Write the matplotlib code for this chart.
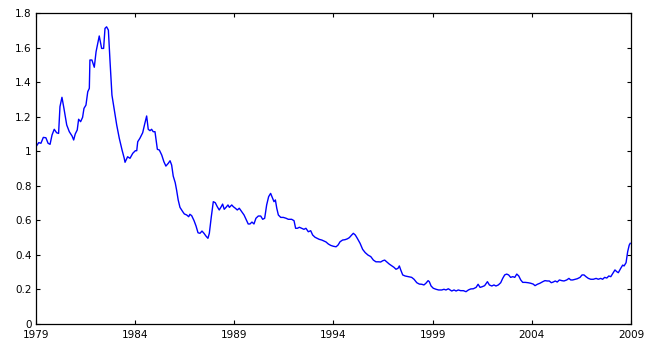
import matplotlib
matplotlib.use("Agg")
import matplotlib.pyplot as plt

# values (decimal year, level)
years = [1979.00, 1979.14, 1979.25, 1979.37, 1979.50, 1979.61, 1979.71, 1979.81, 1979.92, 1980.04,
         1980.14, 1980.21, 1980.31, 1980.41, 1980.55, 1980.68, 1980.82, 1980.90, 1980.98, 1981.08,
         1981.15, 1981.25, 1981.35, 1981.42, 1981.52, 1981.61, 1981.69, 1981.72, 1981.82, 1981.94,
         1982.03, 1982.19, 1982.26, 1982.31, 1982.41, 1982.48, 1982.56, 1982.65, 1982.73, 1982.83,
         1982.95, 1983.07, 1983.20, 1983.34, 1983.45, 1983.49, 1983.62, 1983.74, 1983.88, 1984.01,
         1984.08, 1984.13, 1984.24, 1984.38, 1984.48, 1984.58, 1984.66, 1984.75, 1984.83, 1984.91,
         1985.00, 1985.12, 1985.22, 1985.34, 1985.45, 1985.55, 1985.67, 1985.76, 1985.84, 1985.92,
         1986.02, 1986.09, 1986.17, 1986.26, 1986.40, 1986.48, 1986.60, 1986.70, 1986.76, 1986.85,
         1986.97, 1987.07, 1987.17, 1987.27, 1987.37, 1987.47, 1987.57, 1987.67, 1987.74, 1987.84,
         1987.94, 1988.04, 1988.14, 1988.24, 1988.34, 1988.41, 1988.49, 1988.58, 1988.68, 1988.75,
         1988.87, 1988.95, 1989.05, 1989.15, 1989.25, 1989.37, 1989.49, 1989.59, 1989.70, 1989.79,
         1989.89, 1989.99, 1990.09, 1990.21, 1990.33, 1990.43, 1990.53, 1990.63, 1990.73, 1990.83,
         1990.93, 1991.00, 1991.07, 1991.14, 1991.22, 1991.34, 1991.47, 1991.61, 1991.72, 1991.89,
         1992.01, 1992.09, 1992.18, 1992.28, 1992.40, 1992.51, 1992.61, 1992.73, 1992.85, 1992.95,
         1993.07, 1993.18, 1993.28, 1993.41, 1993.52, 1993.62, 1993.74, 1993.86, 1993.99, 1994.13,
         1994.23, 1994.33, 1994.46, 1994.58, 1994.70, 1994.80, 1994.90, 1995.00, 1995.10, 1995.20,
         1995.34, 1995.47, 1995.60, 1995.74, 1995.88, 1996.01, 1996.14, 1996.26, 1996.38, 1996.48,
         1996.58, 1996.68, 1996.81, 1996.95, 1997.05, 1997.15, 1997.25, 1997.32, 1997.39, 1997.49,
         1997.61, 1997.77, 1997.94, 1998.06, 1998.20, 1998.33, 1998.45, 1998.56, 1998.66, 1998.77,
         1998.83, 1998.92, 1999.03, 1999.17, 1999.30, 1999.46, 1999.57, 1999.67, 1999.79, 1999.96,
         2000.08, 2000.18, 2000.29, 2000.41, 2000.55, 2000.68, 2000.80, 2000.92, 2001.05, 2001.19,
         2001.29, 2001.39, 2001.50, 2001.62, 2001.76, 2001.86, 2001.98, 2002.09, 2002.19, 2002.31,
         2002.43, 2002.53, 2002.63, 2002.73, 2002.83, 2002.93, 2003.04, 2003.14, 2003.24, 2003.34,
         2003.44, 2003.54, 2003.67, 2003.81, 2003.94, 2004.07, 2004.16, 2004.28, 2004.41, 2004.55,
         2004.66, 2004.78, 2004.88, 2004.98, 2005.08, 2005.18, 2005.28, 2005.39, 2005.51, 2005.62,
         2005.76, 2005.87, 2005.96, 2006.06, 2006.18, 2006.29, 2006.43, 2006.53, 2006.63, 2006.73,
         2006.85, 2006.97, 2007.10, 2007.24, 2007.35, 2007.47, 2007.57, 2007.67, 2007.78, 2007.88,
         2007.98, 2008.08, 2008.19, 2008.28, 2008.36, 2008.48, 2008.58, 2008.65, 2008.75, 2008.83,
         2008.91, 2008.96]
level = [1.026, 1.050, 1.046, 1.080, 1.078, 1.046, 1.040, 1.094, 1.127, 1.107,
         1.103, 1.258, 1.312, 1.248, 1.152, 1.113, 1.088, 1.065, 1.100, 1.123,
         1.185, 1.171, 1.196, 1.248, 1.267, 1.344, 1.364, 1.528, 1.528, 1.486,
         1.576, 1.667, 1.624, 1.595, 1.595, 1.711, 1.720, 1.701, 1.528, 1.325,
         1.238, 1.152, 1.075, 1.007, 0.959, 0.936, 0.968, 0.959, 0.988, 1.003,
         1.003, 1.055, 1.075, 1.107, 1.157, 1.204, 1.127, 1.119, 1.127, 1.113,
         1.113, 1.011, 1.007, 0.978, 0.939, 0.914, 0.930, 0.945, 0.920, 0.856,
         0.818, 0.775, 0.718, 0.675, 0.650, 0.637, 0.631, 0.621, 0.635, 0.627,
         0.598, 0.567, 0.528, 0.525, 0.538, 0.525, 0.509, 0.496, 0.525, 0.621,
         0.708, 0.702, 0.679, 0.660, 0.679, 0.694, 0.664, 0.675, 0.689, 0.675,
         0.689, 0.679, 0.670, 0.660, 0.670, 0.650, 0.631, 0.606, 0.579, 0.579,
         0.590, 0.579, 0.612, 0.625, 0.625, 0.606, 0.612, 0.689, 0.737, 0.756,
         0.727, 0.708, 0.718, 0.670, 0.631, 0.617, 0.617, 0.612, 0.606, 0.606,
         0.598, 0.554, 0.554, 0.560, 0.554, 0.548, 0.554, 0.534, 0.540, 0.515,
         0.502, 0.496, 0.490, 0.486, 0.480, 0.475, 0.463, 0.455, 0.450, 0.447,
         0.457, 0.476, 0.486, 0.488, 0.493, 0.500, 0.513, 0.525, 0.515, 0.496,
         0.467, 0.432, 0.413, 0.399, 0.390, 0.370, 0.360, 0.360, 0.359, 0.366,
         0.370, 0.360, 0.347, 0.336, 0.328, 0.317, 0.322, 0.336, 0.313, 0.284,
         0.278, 0.274, 0.270, 0.259, 0.239, 0.231, 0.230, 0.226, 0.236, 0.251,
         0.245, 0.220, 0.207, 0.201, 0.197, 0.197, 0.201, 0.197, 0.204, 0.191,
         0.197, 0.191, 0.197, 0.193, 0.193, 0.187, 0.197, 0.203, 0.204, 0.212,
         0.230, 0.212, 0.216, 0.222, 0.245, 0.226, 0.220, 0.226, 0.220, 0.226,
         0.239, 0.264, 0.284, 0.289, 0.284, 0.270, 0.274, 0.270, 0.289, 0.278,
         0.255, 0.241, 0.241, 0.239, 0.236, 0.231, 0.222, 0.230, 0.236, 0.245,
         0.251, 0.249, 0.249, 0.239, 0.243, 0.249, 0.243, 0.255, 0.251, 0.249,
         0.255, 0.264, 0.255, 0.255, 0.259, 0.262, 0.270, 0.284, 0.284, 0.274,
         0.264, 0.259, 0.259, 0.264, 0.259, 0.264, 0.259, 0.270, 0.266, 0.278,
         0.274, 0.293, 0.313, 0.303, 0.297, 0.322, 0.341, 0.336, 0.355, 0.418,
         0.457, 0.467]

xticks = [1979, 1984, 1989, 1994, 1999, 2004, 2009]
yticks = [0, 0.2, 0.4, 0.6, 0.8, 1, 1.2, 1.4, 1.6, 1.8]
ytick_labels = ["0", "0.2", "0.4", "0.6", "0.8", "1", "1.2", "1.4", "1.6", "1.8"]

plt.rcParams["font.family"] = ["DejaVu Sans"]

fig = plt.figure(figsize=(6.47, 3.42), dpi=100)
ax = fig.add_axes([0.0556, 0.0526, 0.9197, 0.9094])
ax.plot(years, level, color=(0, 0, 1), linewidth=1.0)

ax.set_xlim(1979, 2009)
ax.set_ylim(0, 1.8)
ax.set_xticks(xticks)
ax.set_xticklabels([str(t) for t in xticks])
ax.set_yticks(yticks)
ax.set_yticklabels(ytick_labels)
ax.tick_params(direction="in", top=True, right=True, length=3, width=0.8,
               labelsize=7.5)
ax.tick_params(axis="x", pad=4.5)
ax.tick_params(axis="y", pad=3)
for s in ax.spines.values():
    s.set_linewidth(0.9)

fig.savefig("out.png", dpi=100)
